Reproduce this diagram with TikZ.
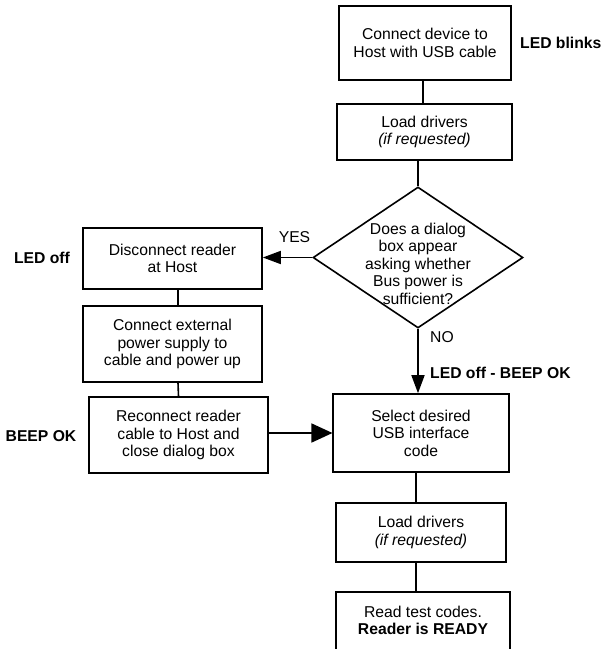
\documentclass[tikz,border=0pt]{standalone}
\usepackage{fontspec}
\setmainfont{Liberation Sans}
\usetikzlibrary{arrows.meta,shapes.geometric}
\newcommand{\fsz}{\fontsize{15.7}{17.5}\selectfont}
\begin{document}
\begin{tikzpicture}[x=1pt,y=-1pt,
 box/.style={draw,line width=1.6pt,inner sep=0pt,align=center,font=\fsz},
 lbl/.style={inner sep=0pt,font=\fsz},
 blbl/.style={inner sep=0pt,font=\fsz\bfseries},
 conn/.style={line width=1.6pt},
 arr/.style={line width=1.6pt,-{Triangle[length=18pt,width=13pt]}},
 bigarr/.style={line width=1.6pt,-{Triangle[length=21pt,width=19pt]}}]
\useasboundingbox (0,0) rectangle (601,649);
\clip (0,0) rectangle (601,649);
\node[box,minimum width=172pt,minimum height=74pt] (b1) at (425,43) {Connect device to\\Host with USB cable};
\node[blbl,anchor=west] (ledb) at (520,43) {LED blinks};
\node[box,minimum width=175pt,minimum height=56pt] (b2) at (424.5,132) {Load drivers\\\textit{(if requested)}};
\node[draw,diamond,line width=1.6pt,minimum width=210pt,minimum height=141pt,inner sep=0pt] (dia) at (418,257.5) {};
\node[lbl,align=center] (diat) at (418,263.5) {Does a dialog\\box appear\\asking whether\\Bus power is\\sufficient?};
\node[box,minimum width=179pt,minimum height=61pt] (disc) at (172.5,258.5) {Disconnect reader\\at Host};
\node[blbl] (ledoff) at (42,258) {LED off};
\node[lbl] (yes) at (294.5,237) {YES};
\node[box,minimum width=179pt,minimum height=76pt] (ext) at (172.5,344) {Connect external\\power supply to\\cable and power up};
\node[box,minimum width=179pt,minimum height=76pt] (recon) at (178.5,435) {Reconnect reader\\cable to Host and\\close dialog box};
\node[blbl] (beep) at (41,436) {BEEP OK};
\node[box,minimum width=175.5pt,minimum height=78pt] (sel) at (421,433) {Select desired\\USB interface\\code};
\node[lbl] (no) at (442,337) {NO};
\node[blbl,anchor=west] (ledbeep) at (430,373) {LED off - BEEP OK};
\node[box,minimum width=170pt,minimum height=59pt] (ld2) at (421,532.5) {Load drivers\\\textit{(if requested)}};
\node[box,minimum width=174pt,minimum height=74pt] (rd) at (423,629) {};
\node[lbl,align=center] (rdt) at (423,620.5) {Read test codes.\\\textbf{Reader is READY}};
\draw[conn] ([xshift=-2pt]b1.south) -- ([xshift=-2pt]b1.south |- b2.north);
\draw[conn] (b2.south -| dia.north) -- (dia.north);
\draw[arr] (dia.west) -- (dia.west -| disc.east);
\draw[conn] ([xshift=5.5pt]disc.south) -- ([xshift=5.5pt]ext.north);
\draw[conn] ([xshift=5.5pt]ext.south) -- (recon.north);
\draw[bigarr] (recon.east |- sel.west) -- (sel.west);
\draw[arr] (dia.south) -- (dia.south |- sel.north);
\draw[conn] ([xshift=-5pt]sel.south) -- ([xshift=-5pt]ld2.north);
\draw[conn] ([xshift=-5pt]ld2.south) -- ([xshift=-5pt]ld2.south |- rd.north);
\end{tikzpicture}
\end{document}
